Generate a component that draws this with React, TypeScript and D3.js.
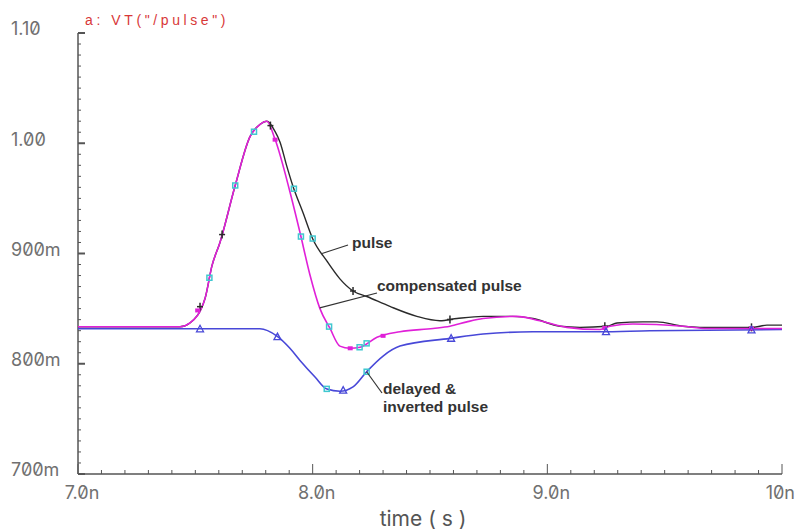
import React from "react";
import * as d3 from "d3";

// ---- data (time in ns, value in V) ----
const pulseT = [7.0, 7.435, 7.477, 7.541, 7.571, 7.605, 7.669, 7.733, 7.775, 7.805, 7.839, 7.861, 7.89, 7.916, 7.959, 8.001, 8.061, 8.116, 8.172, 8.231, 8.329, 8.444, 8.542, 8.615, 8.726, 8.853, 8.939, 9.054, 9.139, 9.254, 9.297, 9.407, 9.467, 9.578, 9.65, 9.876, 9.936, 10.0];
const pulseV = [0.8335, 0.8335, 0.837, 0.859, 0.889, 0.91, 0.961, 1.006, 1.017, 1.02, 1.011, 1.001, 0.979, 0.961, 0.937, 0.913, 0.893, 0.877, 0.866, 0.861, 0.852, 0.843, 0.839, 0.841, 0.843, 0.843, 0.841, 0.834, 0.833, 0.834, 0.837, 0.838, 0.838, 0.834, 0.833, 0.833, 0.835, 0.835];

const compT = [7.0, 7.435, 7.477, 7.541, 7.571, 7.605, 7.669, 7.733, 7.775, 7.805, 7.839, 7.903, 7.946, 7.988, 8.031, 8.074, 8.116, 8.159, 8.202, 8.274, 8.372, 8.513, 8.585, 8.657, 8.726, 8.87, 8.968, 9.083, 9.224, 9.267, 9.365, 9.578, 9.68, 9.863, 10.0];
const compV = [0.8335, 0.8335, 0.837, 0.859, 0.889, 0.91, 0.961, 1.006, 1.017, 1.02, 1.004, 0.956, 0.919, 0.881, 0.85, 0.832, 0.816, 0.814, 0.815, 0.824, 0.829, 0.832, 0.834, 0.838, 0.841, 0.843, 0.839, 0.833, 0.831, 0.834, 0.836, 0.834, 0.832, 0.832, 0.832];

const delayT = [7.0, 7.775, 7.848, 7.903, 7.946, 8.01, 8.061, 8.116, 8.172, 8.231, 8.3, 8.372, 8.585, 8.726, 8.939, 9.054, 9.224, 9.437, 10.0];
const delayV = [0.8317, 0.8317, 0.825, 0.814, 0.803, 0.788, 0.777, 0.775, 0.779, 0.793, 0.807, 0.816, 0.823, 0.827, 0.829, 0.829, 0.829, 0.83, 0.831];

// marker times
const pulseMarkT = [7.52, 7.614, 7.82, 8.172, 8.585, 9.245, 9.87];
const compMarkT = [7.51, 7.84, 8.16, 8.3, 9.245, 9.87];
const delayMarkT = [7.52, 7.85, 8.13, 8.59, 9.25, 9.87];
const cyanPulseT = [7.56, 7.67, 7.75, 7.92, 8.0];
const cyanCompT = [7.95, 8.07, 8.2, 8.23];
const cyanDelayT = [8.06, 8.23];

const yTickVals = [0.7, 0.8, 0.9, 1.0, 1.1];
const yTickLabels = ["700m", "800m", "900m", "1.00", "1.10"];
const xTickVals = [7, 8, 9, 10];
const xTickLabels = ["7.0n", "8.0n", "9.0n", "10n"];

const titleText = 'a: VT("/pulse")';
const xAxisTitle = "time ( s )";

const W = 796;
const H = 531;
const x = d3.scaleLinear().domain([7, 10]).range([78, 782]);
const y = d3.scaleLinear().domain([0.7, 1.1]).range([474, 33]);

function interp(ts: number[], vs: number[], t: number) {
  const i = d3.bisectLeft(ts, t);
  if (i <= 0) return vs[0];
  if (i >= ts.length) return vs[vs.length - 1];
  const t0 = ts[i - 1], t1 = ts[i];
  const f = (t - t0) / (t1 - t0);
  return vs[i - 1] + f * (vs[i] - vs[i - 1]);
}

const lineGen = d3
  .line<[number, number]>()
  .x((d) => x(d[0]))
  .y((d) => y(d[1]))
  .curve(d3.curveMonotoneX);

function pathOf(ts: number[], vs: number[]) {
  return lineGen(ts.map((t, i) => [t, vs[i]] as [number, number])) || "";
}

const tickFont = "Inter, 'DejaVu Sans', sans-serif";
const annFont = "'Liberation Sans', Arial, sans-serif";

export default function App() {
  const yMinor = d3.range(0, 41).map((i) => 0.7 + i * 0.01);
  const xMinor = d3.range(0, 31).map((i) => 7 + i * 0.1);
  const axisColor = "#555";
  const black = "#2a2a2a";
  const magenta = "#e020d8";
  const blue = "#4848d8";
  const cyan = "#40c8d0";
  const annColor = "#333";

  return (
    <svg
      width={W}
      height={H}
      style={{ position: "absolute", left: 0, top: 0, background: "#fff" }}
    >
      <rect x={0} y={0} width={W} height={H} fill="#fff" />
      {/* title */}
      <text x={85} y={25} fontFamily={annFont} fontSize={14} fill="#d83838" letterSpacing={3.6}>
        {titleText}
      </text>

      {/* axes */}
      <line x1={x(7)} x2={x(7)} y1={y(1.1)} y2={y(0.7)} stroke={axisColor} strokeWidth={1.5} />
      <line x1={x(7)} x2={x(10)} y1={y(0.7)} y2={y(0.7)} stroke={axisColor} strokeWidth={1.5} />
      {yMinor.map((v, i) => (
        <line
          key={"ym" + i}
          x1={x(7)}
          x2={x(7) + (i % 10 === 0 ? 7 : 3)}
          y1={y(v)}
          y2={y(v)}
          stroke={axisColor}
          strokeWidth={i % 10 === 0 ? 2 : 1}
        />
      ))}
      {xMinor.map((v, i) => (
        <line
          key={"xm" + i}
          x1={x(v)}
          x2={x(v)}
          y1={y(0.7)}
          y2={y(0.7) - (i % 10 === 0 ? 10 : 4)}
          stroke={axisColor}
          strokeWidth={1}
        />
      ))}
      {yTickVals.map((v, i) => (
        <text
          key={"yl" + i}
          x={11}
          y={y(v) - 4}
          dy="0.36em"
          fontFamily={tickFont}
          fontSize={18}
          fill="#707070"
          style={{ fontVariantNumeric: "slashed-zero" }}
        >
          {yTickLabels[i]}
        </text>
      ))}
      {xTickVals.map((v, i) => {
        const last = i === xTickVals.length - 1;
        return (
          <text
            key={"xl" + i}
            x={last ? 795 : x(v) + 4}
            y={499}
            textAnchor={last ? "end" : "middle"}
            fontFamily={tickFont}
            fontSize={18}
            fill="#707070"
            style={{ fontVariantNumeric: "slashed-zero" }}
          >
            {xTickLabels[i]}
          </text>
        );
      })}
      <text
        x={423}
        y={526}
        textAnchor="middle"
        fontFamily={tickFont}
        fontSize={21}
        fill="#555"
      >
        {xAxisTitle}
      </text>

      {/* curves */}
      <path d={pathOf(delayT, delayV)} fill="none" stroke={blue} strokeWidth={1.6} />
      <path d={pathOf(pulseT, pulseV)} fill="none" stroke={black} strokeWidth={1.4} />
      <path d={pathOf(compT, compV)} fill="none" stroke={magenta} strokeWidth={1.6} />

      {/* markers */}
      {cyanPulseT.map((t, i) => (
        <rect key={"cp" + i} x={x(t) - 2.5} y={y(interp(pulseT, pulseV, t)) - 2.5} width={5} height={5} fill="none" stroke={cyan} strokeWidth={1.5} />
      ))}
      {cyanCompT.map((t, i) => (
        <rect key={"cc" + i} x={x(t) - 2.5} y={y(interp(compT, compV, t)) - 2.5} width={5} height={5} fill="none" stroke={cyan} strokeWidth={1.5} />
      ))}
      {cyanDelayT.map((t, i) => (
        <rect key={"cd" + i} x={x(t) - 2.5} y={y(interp(delayT, delayV, t)) - 2.5} width={5} height={5} fill="none" stroke={cyan} strokeWidth={1.5} />
      ))}
      {pulseMarkT.map((t, i) => {
        const cx = x(t), cy = y(interp(pulseT, pulseV, t));
        return (
          <g key={"pm" + i} stroke={black} strokeWidth={1.5}>
            <line x1={cx - 3} x2={cx + 3} y1={cy} y2={cy} />
            <line x1={cx} x2={cx} y1={cy - 4} y2={cy + 4} />
          </g>
        );
      })}
      {compMarkT.map((t, i) => {
        const cx = x(t), cy = y(interp(compT, compV, t));
        return <rect key={"mm" + i} x={cx - 2.5} y={cy - 2} width={5} height={4} fill={magenta} />;
      })}
      {delayMarkT.map((t, i) => {
        const cx = x(t), cy = y(interp(delayT, delayV, t));
        return (
          <path
            key={"dm" + i}
            d={`M${cx - 3.5},${cy + 3} L${cx + 3.5},${cy + 3} L${cx},${cy - 3.5} Z`}
            fill="none"
            stroke={blue}
            strokeWidth={1.3}
          />
        );
      })}

      {/* annotations */}
      <line x1={348} y1={245} x2={x(8.04)} y2={y(interp(pulseT, pulseV, 8.04))} stroke={annColor} strokeWidth={1.2} />
      <line x1={377} y1={293} x2={x(8.03)} y2={y(interp(compT, compV, 8.03))} stroke={annColor} strokeWidth={1.2} />
      <line x1={382} y1={393} x2={x(8.23)} y2={y(interp(delayT, delayV, 8.23))} stroke={annColor} strokeWidth={1.2} />
      <text x={352} y={248} fontFamily={annFont} fontWeight="bold" fontSize={15.5} fill={annColor}>pulse</text>
      <text x={377} y={291} fontFamily={annFont} fontWeight="bold" fontSize={15.5} fill={annColor}>compensated pulse</text>
      <text x={383} y={394} fontFamily={annFont} fontWeight="bold" fontSize={15.5} fill={annColor}>delayed &amp;</text>
      <text x={383} y={412} fontFamily={annFont} fontWeight="bold" fontSize={15.5} fill={annColor}>inverted pulse</text>
    </svg>
  );
}
